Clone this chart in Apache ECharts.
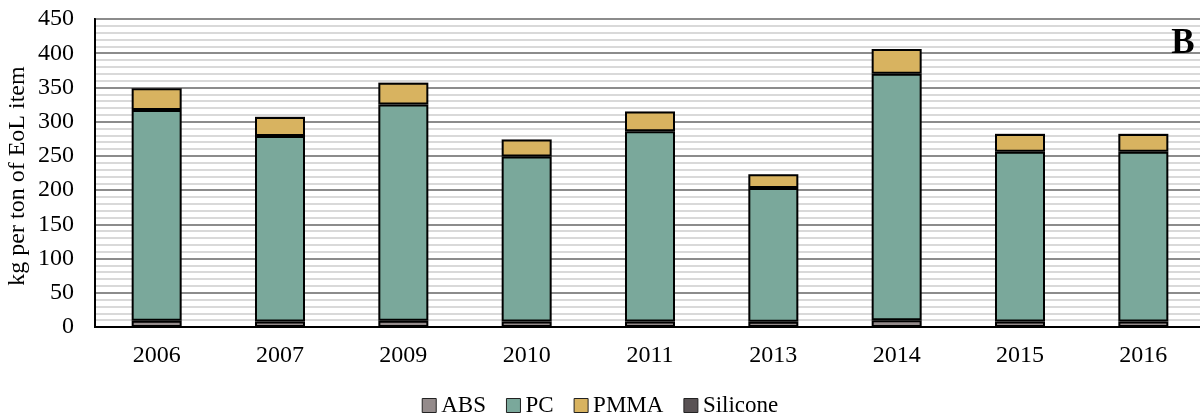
<!DOCTYPE html>
<html>
<head>
<meta charset="utf-8">
<script src="https://cdn.jsdelivr.net/npm/echarts@6/dist/echarts.min.js"></script>
<style>
  html, body { margin: 0; padding: 0; background: #fff; }
  #chart { width: 1200px; height: 417px; }
</style>
</head>
<body>
<div id="chart"></div>
<script>
// values (kg per ton of EoL item)
var years = ['2006', '2007', '2009', '2010', '2011', '2013', '2014', '2015', '2016']
var abs = [9, 8, 9, 8, 8, 7.5, 10, 8, 8]
var pc = [308, 271, 316, 241, 278, 195.5, 360, 248, 248]
var pmma = [32, 28, 32, 25, 29, 20, 36, 26, 26]
var silicone = [0.3, 0.3, 0.3, 0.3, 0.3, 0.3, 0.3, 0.3, 0.3]

var font = 'Liberation Serif'
var colors = {
  ABS: '#948b8b',
  PC: '#7aa89b',
  PMMA: '#d8b360',
  Silicone: '#595254'
}

function barSeries(name, data, border) {
  return {
    name: name,
    type: 'bar',
    stack: 'total',
    barWidth: 50,
    data: data,
    itemStyle: {
      color: colors[name],
      borderColor: '#000',
      borderWidth: border
    }
  }
}

var chart = echarts.init(document.getElementById('chart'))
chart.setOption({
  animation: false,
  textStyle: { fontFamily: font },
  grid: {
    left: 95,
    right: -5,
    top: 19,
    bottom: 90,
    outerBoundsMode: 'none',
    containLabel: false,
    show: true,
    borderColor: '#000',
    borderWidth: 2
  },
  legend: {
    top: 389,
    left: 'center',
    itemWidth: 14,
    itemHeight: 14,
    itemGap: 20,
    icon: 'rect',
    itemStyle: { borderColor: '#222', borderWidth: 1 },
    textStyle: { fontFamily: font, fontSize: 23, color: '#000' },
    data: ['ABS', 'PC', 'PMMA', 'Silicone']
  },
  xAxis: {
    type: 'category',
    data: years,
    axisLine: { lineStyle: { color: '#000', width: 2 } },
    axisTick: { show: false },
    axisLabel: { color: '#000', fontSize: 24, margin: 17, fontFamily: font }
  },
  yAxis: {
    type: 'value',
    min: 0,
    max: 450,
    interval: 50,
    axisLine: { show: true, lineStyle: { color: '#000', width: 2 } },
    axisTick: { show: false },
    axisLabel: { color: '#000', fontSize: 24, margin: 21, fontFamily: font },
    splitLine: { lineStyle: { color: '#8c8c8c', width: 2 } },
    minorTick: { show: false, splitNumber: 5 },
    minorSplitLine: { show: true, lineStyle: { color: '#d9d9d9', width: 2 } }
  },
  graphic: [{
    type: 'text',
    x: 18,
    y: 176,
    rotation: Math.PI / 2,
    z: 100,
    style: {
      text: 'kg per ton of EoL item',
      fontFamily: font,
      fontSize: 24,
      fill: '#000',
      align: 'center',
      verticalAlign: 'middle'
    }
  }, {
    type: 'text',
    x: 1183,
    y: 44,
    z: 100,
    style: {
      text: 'B',
      fontFamily: font,
      fontWeight: 'bold',
      fontSize: 35,
      fill: '#000',
      align: 'center',
      verticalAlign: 'middle'
    }
  }],
  series: [
    barSeries('ABS', abs, 2),
    barSeries('PC', pc, 2),
    barSeries('PMMA', pmma, 2),
    barSeries('Silicone', silicone, 0)
  ]
})
</script>
</body>
</html>
